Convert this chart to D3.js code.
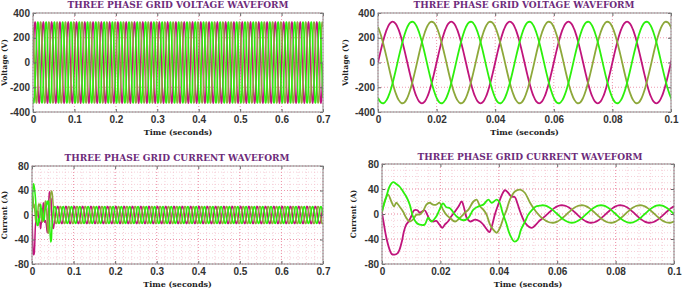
<!DOCTYPE html>
<html>
<head>
<meta charset="utf-8">
<script src="https://cdn.jsdelivr.net/npm/d3@7"></script>
<style>
  body { margin: 0; background: #fff; }
  svg { display: block; }
  .title { font-family: "DejaVu Serif", serif; font-weight: bold; fill: #6d2b7a; }
  .axlabel { font-family: "DejaVu Serif", serif; font-weight: bold; fill: #222; }
  .tick text { font-family: "Liberation Sans", Arial, sans-serif; font-weight: bold; fill: #333; }
</style>
</head>
<body>
<svg id="chart" width="685" height="290"></svg>
<script>
// one 20 ms cycle of each grid voltage phase, read every 1 ms (V)
const voltMagenta = [0, 102, 194, 267, 314, 330, 314, 267, 194, 102, 0, -102, -194, -267, -314, -330, -314, -267, -194, -102];
const voltOlive   = [286, 221, 134, 35, -69, -165, -245, -301, -328, -323, -286, -221, -134, -35, 69, 165, 245, 301, 328, 323];
const voltGreen   = [-286, -323, -328, -301, -245, -165, -69, 35, 134, 221, 286, 323, 328, 301, 245, 165, 69, -35, -134, -221];

// one 20 ms cycle of steady-state grid current, read every 1 ms (A)
const currMagenta = [12.1, 13.7, 13.9, 12.8, 10.4, 7.0, 2.9, -1.5, -5.7, -9.4, -12.1, -13.7, -13.9, -12.8, -10.4, -7.0, -2.9, 1.5, 5.7, 9.4];
const currGreen   = [0, -4.3, -8.2, -11.3, -13.3, -14, -13.3, -11.3, -8.2, -4.3, 0, 4.3, 8.2, 11.3, 13.3, 14, 13.3, 11.3, 8.2, 4.3];
const currOlive   = [-12.1, -9.4, -5.7, -1.5, 2.9, 7.0, 10.4, 12.8, 13.9, 13.7, 12.1, 9.4, 5.7, 1.5, -2.9, -7.0, -10.4, -12.8, -13.9, -13.7];

// start-up transient of the grid current [time s, current A]
const transMagenta = [[0, 2], [0.0005, -12], [0.0015, -38], [0.0026, -57], [0.0033, -64], [0.0043, -65], [0.0053, -63], [0.006, -57],
  [0.0068, -44], [0.0075, -28], [0.0083, -17], [0.0091, -12], [0.010, -4], [0.011, 6], [0.0121, 6], [0.0129, 2], [0.0137, 4],
  [0.0146, 6], [0.0155, -1], [0.0163, -9], [0.0175, -12], [0.0186, -11], [0.0197, -17], [0.0207, -22], [0.0215, -17], [0.0226, -12],
  [0.0237, -4], [0.025, 4], [0.0262, 12], [0.0273, 20], [0.0282, 8], [0.029, -6], [0.0302, -12], [0.0319, -9], [0.0336, -12],
  [0.0347, -17], [0.0358, -24], [0.0368, -29], [0.0376, -20], [0.0387, 0], [0.0398, 15], [0.041, 30], [0.0421, 38], [0.0432, 34],
  [0.0443, 28], [0.0455, 27], [0.0463, 18], [0.0473, 4], [0.049, -14], [0.0505, -21], [0.0515, -22], [0.0527, -17]];
const transGreen = [[0, 5], [0.0015, 28], [0.0026, 44], [0.0038, 51], [0.0049, 48], [0.006, 44], [0.0072, 36], [0.0083, 28],
  [0.0095, 15], [0.0106, -4], [0.0118, -14], [0.0129, -17], [0.0146, -17], [0.0158, -6], [0.0169, -12], [0.0186, -4], [0.0197, 7],
  [0.0209, 17], [0.022, 11], [0.0233, 9], [0.0245, 2], [0.0256, -4], [0.0279, -10], [0.0296, -6], [0.0313, 7], [0.033, 12],
  [0.0347, 15], [0.0364, 23], [0.0376, 18], [0.0393, 23], [0.0402, 19], [0.0413, 2], [0.0425, -14], [0.0438, -33], [0.0453, -44],
  [0.0465, -41], [0.0476, -25], [0.049, -12], [0.0501, -1], [0.0515, 7], [0.0527, 12]];
const transOlive = [[0, 2], [0.0011, 23], [0.0021, 31], [0.0032, 20], [0.0041, 12], [0.0049, 18], [0.006, 12], [0.0072, 4],
  [0.0083, -6], [0.0095, -12], [0.0106, -9], [0.0118, -1], [0.0129, -1], [0.014, 4], [0.0152, 15], [0.0163, 18], [0.0175, 15],
  [0.0186, 15], [0.0197, 18], [0.0209, 7], [0.022, -1], [0.0232, -6], [0.025, -12], [0.0267, -6], [0.0284, 2], [0.0296, 7],
  [0.0313, 20], [0.0324, 23], [0.0336, 12], [0.0347, 7], [0.0358, -1], [0.037, -17], [0.0381, -25], [0.0393, -30], [0.0404, -22],
  [0.0416, -6], [0.0427, 7], [0.0438, 23], [0.0455, 36], [0.0473, 39], [0.0489, 34], [0.0507, 18], [0.0527, 4]];

const ticksLong = [0, 0.1, 0.2, 0.3, 0.4, 0.5, 0.6, 0.7];
const ticksShort = [0, 0.02, 0.04, 0.06, 0.08, 0.1];
const voltTicks = [-400, -200, 0, 200, 400];
const currTicks = [-80, -40, 0, 40, 80];

const colors = { magenta: "#c0147c", olive: "#8da83a", green: "#2cf00c" };

// repeat a 1 ms sampled cycle over sample indices [from, to]
function steady(cycle, from, to) {
    const pts = [];
    for (let i = from; i <= to; i++) pts.push([i / 1000, cycle[i % cycle.length]]);
    return pts;
}

const voltage = [
    { color: colors.magenta, pts: steady(voltMagenta, 0, 700) },
    { color: colors.olive, pts: steady(voltOlive, 0, 700) },
    { color: colors.green, pts: steady(voltGreen, 0, 700) }
];
const current = [
    { color: colors.magenta, pts: transMagenta.concat(steady(currMagenta, 54, 700)) },
    { color: colors.olive, pts: transOlive.concat(steady(currOlive, 54, 700)) },
    { color: colors.green, pts: transGreen.concat(steady(currGreen, 54, 700)) }
];

const svg = d3.select("#chart");

function panel(o) {
    const g = svg.append("g");
    const x = d3.scaleLinear().domain([0, o.tmax]).range([o.x0, o.x1]);
    const y = d3.scaleLinear().domain([o.ymin, o.ymax]).range([o.y1, o.y0]);
    const id = "clip" + o.id;

    svg.append("clipPath").attr("id", id)
        .append("rect").attr("x", o.x0).attr("y", o.y0)
        .attr("width", o.x1 - o.x0).attr("height", o.y1 - o.y0);

    // minor grid
    if (o.minorX) {
        g.append("g").selectAll("line").data(o.minorX).join("line")
            .attr("x1", d => x(d)).attr("x2", d => x(d))
            .attr("y1", o.y0).attr("y2", o.y1)
            .attr("stroke", "#f4c4cf").attr("stroke-width", 0.8).attr("stroke-dasharray", "1,2");
        g.append("g").selectAll("line").data(o.minorY).join("line")
            .attr("y1", d => y(d)).attr("y2", d => y(d))
            .attr("x1", o.x0).attr("x2", o.x1)
            .attr("stroke", "#f4c4cf").attr("stroke-width", 0.8).attr("stroke-dasharray", "1,2");
    }
    // major grid
    g.append("g").selectAll("line").data(o.xticks).join("line")
        .attr("x1", d => x(d)).attr("x2", d => x(d))
        .attr("y1", o.y0).attr("y2", o.y1)
        .attr("stroke", "#ec8fa6").attr("stroke-width", 0.9).attr("stroke-dasharray", "1,2");
    g.append("g").selectAll("line").data(o.yticks).join("line")
        .attr("y1", d => y(d)).attr("y2", d => y(d))
        .attr("x1", o.x0).attr("x2", o.x1)
        .attr("stroke", "#ec8fa6").attr("stroke-width", 0.9).attr("stroke-dasharray", "1,2");

    const line = d3.line().x(d => x(d[0])).y(d => y(d[1])).curve(d3.curveCatmullRom);
    const lines = g.append("g").attr("clip-path", `url(#${id})`);
    o.series.forEach(s => {
        lines.append("path")
            .attr("d", line(s.pts.filter(d => d[0] <= o.tmax + 0.002)))
            .attr("fill", "none")
            .attr("stroke", s.color)
            .attr("stroke-width", o.lw)
            .attr("stroke-linejoin", "round");
    });

    // axes
    g.append("g").attr("transform", `translate(0,${o.y1})`)
        .call(d3.axisBottom(x).tickValues(o.xticks).tickFormat(d => String(d)).tickSizeInner(-3).tickSizeOuter(0).tickPadding(4));
    g.append("g").attr("transform", `translate(${o.x0},0)`)
        .call(d3.axisLeft(y).tickValues(o.yticks).tickFormat(d => String(d)).tickSizeInner(-3).tickSizeOuter(0).tickPadding(3));
    g.append("g").attr("transform", `translate(0,${o.y0})`)
        .call(d3.axisTop(x).tickValues(o.xticks).tickFormat("").tickSizeInner(-3).tickSizeOuter(0));
    g.append("g").attr("transform", `translate(${o.x1},0)`)
        .call(d3.axisRight(y).tickValues(o.yticks).tickFormat("").tickSizeInner(-3).tickSizeOuter(0));
    g.selectAll(".domain").remove();
    g.selectAll(".tick line").attr("stroke", "#666");
    g.selectAll(".tick text").attr("font-size", 10);

    g.append("rect")
        .attr("x", o.x0).attr("y", o.y0)
        .attr("width", o.x1 - o.x0).attr("height", o.y1 - o.y0)
        .attr("fill", "none").attr("stroke", "#8a8a8a").attr("stroke-width", 1);

    g.append("text").attr("class", "title")
        .attr("x", o.tx).attr("y", o.ty).attr("text-anchor", "middle").attr("font-size", 9)
        .text(o.title);
    g.append("text").attr("class", "axlabel")
        .attr("x", (o.x0 + o.x1) / 2).attr("y", o.y1 + 23).attr("text-anchor", "middle").attr("font-size", 8)
        .text("Time (seconds)");
    g.append("text").attr("class", "axlabel")
        .attr("transform", `translate(${o.lx},${(o.y0 + o.y1) / 2}) rotate(-90)`)
        .attr("text-anchor", "middle").attr("font-size", 7.5)
        .text(o.ylabel);
}

const minorLongX = d3.range(0, 0.7001, 0.02);
const minorShortX = d3.range(0, 0.1001, 0.004);
const minorCurrY = d3.range(-80, 80.1, 10);

panel({ id: 1, x0: 33, x1: 323, y0: 13, y1: 112, tmax: 0.7, ymin: -400, ymax: 400,
    xticks: ticksLong, yticks: voltTicks, series: voltage, lw: 1.5,
    title: "THREE PHASE GRID VOLTAGE WAVEFORM", tx: 178, ty: 8, ylabel: "Voltage (V)", lx: 7 });
panel({ id: 2, x0: 378, x1: 671, y0: 13, y1: 112, tmax: 0.1, ymin: -400, ymax: 400,
    xticks: ticksShort, yticks: voltTicks, series: voltage, lw: 1.8,
    title: "THREE PHASE GRID VOLTAGE WAVEFORM", tx: 524, ty: 8, ylabel: "Voltage (V)", lx: 348 });
panel({ id: 3, x0: 32, x1: 323, y0: 166, y1: 264, tmax: 0.7, ymin: -80, ymax: 80,
    xticks: ticksLong, yticks: currTicks, series: current, lw: 1.5,
    minorX: minorLongX, minorY: minorCurrY,
    title: "THREE PHASE GRID CURRENT WAVEFORM", tx: 177, ty: 161, ylabel: "Current (A)", lx: 7 });
panel({ id: 4, x0: 382, x1: 674, y0: 164, y1: 264, tmax: 0.1, ymin: -80, ymax: 80,
    xticks: ticksShort, yticks: currTicks, series: current, lw: 1.8,
    minorX: minorShortX, minorY: minorCurrY,
    title: "THREE PHASE GRID CURRENT WAVEFORM", tx: 530, ty: 160, ylabel: "Current (A)", lx: 356 });
</script>
</body>
</html>
